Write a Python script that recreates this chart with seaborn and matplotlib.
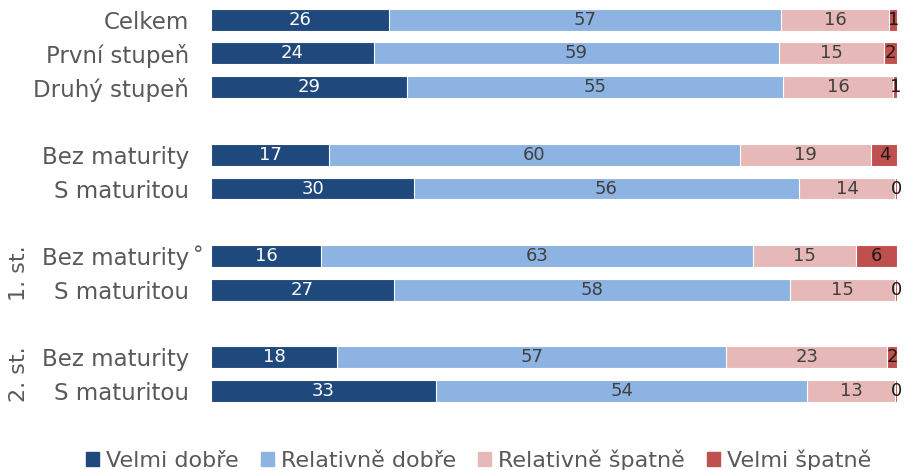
import matplotlib
matplotlib.use("Agg")
import matplotlib.pyplot as plt
import seaborn as sns
import pandas as pd
import numpy as np

# rows (top to bottom), slot positions leave gaps between groups
row_labels = ["Celkem", "První stupeň", "Druhý stupeň",
              "Bez maturity", "S maturitou",
              "Bez maturity", "S maturitou",
              "Bez maturity", "S maturitou"]
row_pos = [0, 1, 2, 4, 5, 7, 8, 10, 11]

categories = ["Velmi dobře", "Relativně dobře", "Relativně špatně", "Velmi špatně"]
velmi_dobre = [25.9, 23.7, 28.6, 17.2, 29.6, 16.0, 26.6, 18.4, 32.8]
rel_dobre = [57.1, 59.1, 54.8, 59.8, 56.0, 63.0, 57.7, 56.7, 54.1]
rel_spatne = [15.8, 15.3, 16.0, 19.2, 14.1, 15.0, 15.3, 23.4, 12.8]
velmi_spatne = [1.2, 1.9, 0.6, 3.8, 0.3, 6.0, 0.4, 1.5, 0.3]

colors = ["#1f497d", "#8db3e2", "#e6b9b8", "#c0504d"]
text_colors = ["white", "#404040", "#404040", "#1a1a1a"]

df = pd.DataFrame({
    "pos": row_pos,
    categories[0]: velmi_dobre,
    categories[1]: rel_dobre,
    categories[2]: rel_spatne,
    categories[3]: velmi_spatne,
})
cum = df[categories].cumsum(axis=1)

sns.set_theme(style="white")
plt.rcParams["font.family"] = ["DejaVu Sans"]
txt = "#595959"

fig = plt.figure(figsize=(9.06, 4.70), dpi=100)
ax = fig.add_axes([0.233, 0.132, 0.759, 0.862])

# stacked bars: draw cumulative totals from longest to shortest
for i in range(len(categories) - 1, -1, -1):
    sns.barplot(x=cum[categories[i]], y=df["pos"], orient="y", native_scale=True,
                color=colors[i], saturation=1, width=0.65, errorbar=None,
                edgecolor="white", linewidth=0.8, ax=ax)

# value labels
for i, cat in enumerate(categories):
    start = cum[cat] - df[cat]
    for p, s, v in zip(df["pos"], start, df[cat]):
        ax.text(s + v / 2, p, f"{v:.0f}", ha="center", va="center",
                fontsize=13, color=text_colors[i])

ax.set_xlim(0, 100.2)
ax.set_ylim(11.5, -0.5)
ax.set_yticks(row_pos)
ax.set_yticklabels(row_labels, fontsize=16.5, color=txt)
ax.set_xticks([])
ax.set_xlabel("")
ax.set_ylabel("")
ax.tick_params(axis="y", length=0, pad=16)
for sp in ax.spines.values():
    sp.set_visible(False)

# degree mark after first "Bez maturity" in 1st-level group
ax.text(-0.018, 7 - 0.02, "°", ha="center", va="center", fontsize=15, color=txt,
        transform=ax.get_yaxis_transform())

# group labels
fig.text(0.021, 1 - 273 / 470, "1. st.", rotation=90, ha="center", va="center",
         fontsize=16, color=txt)
fig.text(0.021, 1 - 374 / 470, "2. st.", rotation=90, ha="center", va="center",
         fontsize=16, color=txt)

handles = [plt.Rectangle((0, 0), 1, 1, color=c) for c in colors]
fig.legend(handles, categories, loc="lower center", ncol=4, frameon=False,
           bbox_to_anchor=(0.528, -0.045), fontsize=16, labelcolor=txt,
           handlelength=0.6, handleheight=0.6, handletextpad=0.3,
           columnspacing=1.0)

fig.savefig("out.png", dpi=100)
